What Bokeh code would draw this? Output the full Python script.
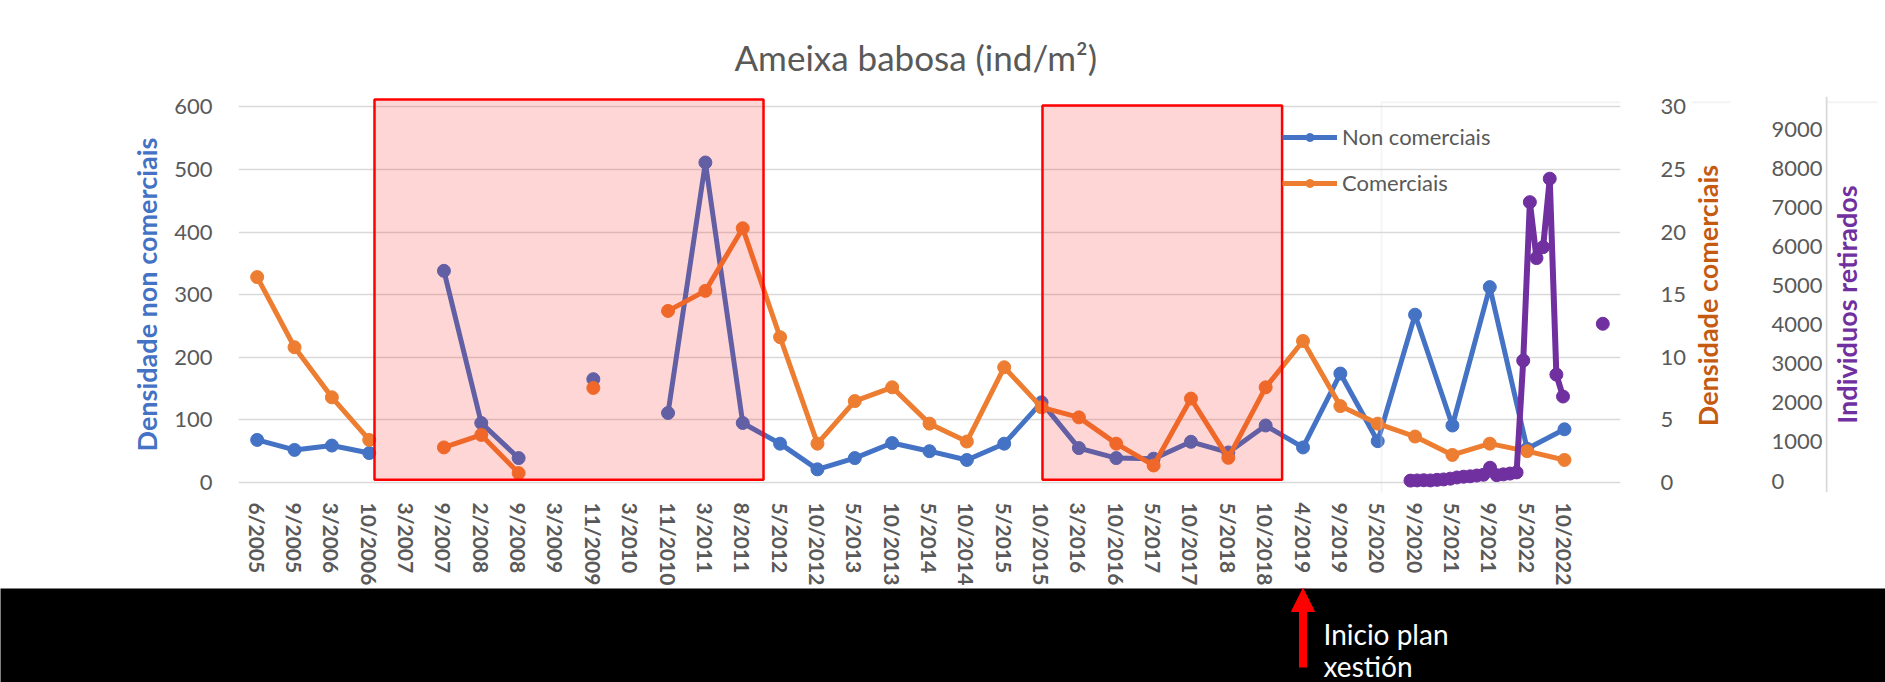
import math
from bokeh.plotting import figure
from bokeh.models import (Range1d, LinearAxis, FixedTicker, BoxAnnotation, Legend,
                          LegendItem, Arrow, NormalHead, Label, Span)
from bokeh.layouts import column, row
from bokeh.embed import file_html
from bokeh.resources import INLINE

nan = float("nan")

# ---------------- data ----------------
categories = ["6/2005", "9/2005", "3/2006", "10/2006", "3/2007", "9/2007", "2/2008", "9/2008",
              "3/2009", "11/2009", "3/2010", "11/2010", "3/2011", "8/2011", "5/2012", "10/2012",
              "5/2013", "10/2013", "5/2014", "10/2014", "5/2015", "10/2015", "3/2016", "10/2016",
              "5/2017", "10/2017", "5/2018", "10/2018", "4/2019", "9/2019", "5/2020", "9/2020",
              "5/2021", "9/2021", "5/2022", "10/2022", ""]

non_comerciais = [68, 52, 59, 47, nan, 338, 95, 39, nan, 165, nan, 111, 511, 95, 62, 21,
                  39, 63, 50, 36, 62, 128, 55, 39, 38, 65, 48, 91, 56, 174, 66, 268,
                  91, 312, 54, 85, nan]

comerciais = [16.4, 10.8, 6.8, 3.4, nan, 2.8, 3.8, 0.75, nan, 7.55, nan, 13.7, 15.3, 20.3, 11.6, 3.1,
              6.5, 7.6, 4.7, 3.27, 9.2, 6.0, 5.2, 3.1, 1.36, 6.7, 1.97, 7.6, 11.3, 6.1, 4.7, 3.67,
              2.2, 3.1, 2.5, 1.8, nan]

# individuals removed (separate inset series, one value per removal campaign)
individuos = [10, 15, 20, 15, 30, 40, 60, 90, 110, 120, 140, 160, 340, 150, 170, 190, 220,
              3080, 7130, 5700, 5980, 7730, 2720, 2160, nan, nan, nan, nan, nan, 4020]

left_ticks = [0, 100, 200, 300, 400, 500, 600]
com_ticks = [0, 5, 10, 15, 20, 25, 30]
ind_ticks = [0, 1000, 2000, 3000, 4000, 5000, 6000, 7000, 8000, 9000]

# ---------------- styles ----------------
FONT = "Lato"
GREY = "#595959"
BLUE = "#4472C4"
ORANGE = "#ED7D31"
ORANGE_T = "#C55A11"
PURPLE = "#7030A0"
GRID = "#D9D9D9"

x_idx = list(range(len(categories)))
p_idx = list(range(len(individuos)))

X_START, X_END = -0.5, 36.5
FRAME_W, FRAME_H = 1382, 396
B_LEFT, B_TOP, B_BOTTOM = 238, 96, 96
COM_STANDOFF = 40
P1_RIGHT = 71
R1_FRAME = 39
IND_RANGE = (-294.0, 9831.1)
FRAME_TOP_PX, FRAME_BOTTOM_PX = B_TOP, B_TOP + FRAME_H


def style_axis(ax, size="22px", bold=False):
    ax.axis_line_color = None
    ax.major_tick_line_color = None
    ax.minor_tick_line_color = None
    ax.major_tick_out = 0
    ax.major_tick_in = 0
    ax.major_label_text_font = FONT
    ax.major_label_text_font_size = size
    ax.major_label_text_color = GREY
    if bold:
        ax.major_label_text_font_style = "bold"
    ax.axis_label_text_font = FONT
    ax.axis_label_text_font_size = "27px"
    ax.axis_label_text_font_style = "bold"


def white(f):
    f.background_fill_color = "white"
    f.border_fill_color = "white"
    f.outline_line_color = None
    f.grid.visible = False


# ================= main chart =================
p = figure(frame_width=FRAME_W, frame_height=FRAME_H,
           min_border_left=B_LEFT, min_border_right=P1_RIGHT,
           min_border_top=B_TOP, min_border_bottom=B_BOTTOM,
           x_range=Range1d(X_START, X_END), y_range=Range1d(-15.97, 616.4),
           output_backend="svg", toolbar_location=None,
           title="Ameixa babosa (ind/m²)")
p.extra_y_ranges = {"com": Range1d(-0.799, 30.82), "ind": Range1d(*IND_RANGE)}
p.extra_x_ranges = {"pidx": Range1d(-176.74, 31.67)}
white(p)
p.ygrid.visible = True
p.ygrid.grid_line_color = GRID
p.ygrid.grid_line_width = 1.5

p.title.text_font = FONT
p.title.text_font_size = "35px"
p.title.text_font_style = "normal"
p.title.text_color = GREY
p.title.align = "left"
p.title.offset = 496
p.title.standoff = 38

ly = p.yaxis[0]
style_axis(ly)
ly.ticker = FixedTicker(ticks=left_ticks)
ly.major_label_standoff = 26
ly.axis_label = "Densidade non comerciais"
ly.axis_label_text_color = BLUE
ly.axis_label_standoff = 8

bx = p.xaxis[0]
style_axis(bx, size="21px", bold=True)
bx.ticker = FixedTicker(ticks=x_idx[:-1])
bx.major_label_overrides = {i: c for i, c in enumerate(categories) if c}
bx.major_label_orientation = "vertical"
bx.major_label_standoff = 10

ax_com = LinearAxis(y_range_name="com", ticker=FixedTicker(ticks=com_ticks))
style_axis(ax_com)
ax_com.major_label_standoff = COM_STANDOFF
p.add_layout(ax_com, "right")

LW, MS = 5, 13
bl = p.line(x_idx, non_comerciais, line_color=BLUE, line_width=LW)
bs = p.scatter(x_idx, non_comerciais, size=MS, fill_color=BLUE, line_color=BLUE)
ol = p.line(x_idx, comerciais, line_color=ORANGE, line_width=LW, y_range_name="com")
os_ = p.scatter(x_idx, comerciais, size=MS, fill_color=ORANGE, line_color=ORANGE, y_range_name="com")
pl = p.line(p_idx, individuos, line_color=PURPLE, line_width=6,
            x_range_name="pidx", y_range_name="ind")
ps = p.scatter(p_idx, individuos, size=MS, fill_color=PURPLE, line_color=PURPLE,
               x_range_name="pidx", y_range_name="ind")

for left, right, top in [(3.141, 13.556, 611.7), (21.025, 27.44, 602.1)]:
    p.add_layout(BoxAnnotation(left=left, right=right, top=top, bottom=4.3,
                               fill_color="#FF0000", fill_alpha=0.16,
                               line_color="#FF0000", line_alpha=1.0, line_width=2.5))

legend = Legend(items=[LegendItem(label="Non comerciais", renderers=[bl, bs]),
                       LegendItem(label="Comerciais", renderers=[ol, os_])],
                location=(1044, 296), orientation="vertical",
                border_line_color=None, background_fill_alpha=0.0,
                padding=0, margin=0, spacing=19, glyph_width=55, glyph_height=20,
                label_height=20, label_standoff=5,
                label_text_font=FONT, label_text_font_size="22px", label_text_color=GREY)
p.add_layout(legend)

# frame of the inset "retirados" chart (screen units from the plot frame)
p.add_layout(BoxAnnotation(left=1143, right=1700, top=390.3, bottom=-17.3,
                           left_units="screen", right_units="screen",
                           top_units="screen", bottom_units="screen",
                           fill_alpha=0.0, line_color=GRID, line_width=2))

# ================= right strip 1: comerciais title + retirados axis =================
r1 = figure(frame_width=R1_FRAME, frame_height=FRAME_H,
            min_border_left=0, min_border_right=95, min_border_top=B_TOP, min_border_bottom=B_BOTTOM,
            x_range=Range1d(0, R1_FRAME), y_range=Range1d(*IND_RANGE),
            x_axis_location=None, y_axis_location=None,
            output_backend="svg", toolbar_location=None)
white(r1)
r1.extra_y_ranges = {"px": Range1d(FRAME_BOTTOM_PX, FRAME_TOP_PX)}
ax_ind = LinearAxis(ticker=FixedTicker(ticks=ind_ticks))
style_axis(ax_ind)
ax_ind.major_label_standoff = 41
r1.add_layout(ax_ind, "right")
r1.add_layout(Label(x=16, y=295, y_range_name="px", text="Densidade comerciais",
                    angle=math.pi / 2, text_align="center", text_baseline="middle",
                    text_font=FONT, text_font_size="27px", text_font_style="bold",
                    text_color=ORANGE_T))
r1.add_layout(BoxAnnotation(left=-50, right=300, top=390.3, bottom=-17.3,
                            left_units="screen", right_units="screen",
                            top_units="screen", bottom_units="screen",
                            fill_alpha=0.0, line_color=GRID, line_width=2))

# ================= right strip 2: retirados title =================
r2 = figure(frame_width=53, frame_height=FRAME_H,
            min_border_left=0, min_border_right=0, min_border_top=B_TOP, min_border_bottom=B_BOTTOM,
            x_range=Range1d(0, 53), y_range=Range1d(FRAME_BOTTOM_PX, FRAME_TOP_PX),
            x_axis_location=None, y_axis_location=None,
            output_backend="svg", toolbar_location=None)
white(r2)
r2.add_layout(Span(location=1, dimension="height", line_color=GRID, line_width=2))
r2.add_layout(BoxAnnotation(left=-20, right=100, top=101.7, bottom=509.3,
                            fill_alpha=0.0, line_color=GRID, line_width=2))
r2.add_layout(Label(x=21, y=304, text="Individuos retirados",
                    angle=math.pi / 2, text_align="center", text_baseline="middle",
                    text_font=FONT, text_font_size="27px", text_font_style="bold",
                    text_color=PURPLE))

# ================= bottom black band with annotation =================
px_per_cat = FRAME_W / (X_END - X_START)
q = figure(frame_width=1885, frame_height=94, min_border=0,
           x_range=Range1d(X_START - B_LEFT / px_per_cat,
                           X_END + (1885 - B_LEFT - FRAME_W) / px_per_cat),
           y_range=Range1d(94, 0),
           x_axis_location=None, y_axis_location=None,
           output_backend="svg", toolbar_location=None)
q.background_fill_color = "black"
q.border_fill_color = "black"
q.outline_line_color = None
q.grid.visible = False

start_idx = categories.index("4/2019")
q.add_layout(Arrow(end=NormalHead(size=23, fill_color="#FF0000", line_color="#FF0000"),
                   x_start=start_idx, y_start=79, x_end=start_idx, y_end=0,
                   line_color="#FF0000", line_width=8))
q.add_layout(Label(x=start_idx + 0.55, y=45, text="Inicio plan", text_color="white",
                   text_font=FONT, text_font_size="28px", text_baseline="alphabetic"))
q.add_layout(Label(x=start_idx + 0.55, y=77, text="xestión", text_color="white",
                   text_font=FONT, text_font_size="28px", text_baseline="alphabetic"))

layout = column(row(p, r1, r2, spacing=0), q, spacing=0)
open("out.html", "w").write(file_html(layout, INLINE))
